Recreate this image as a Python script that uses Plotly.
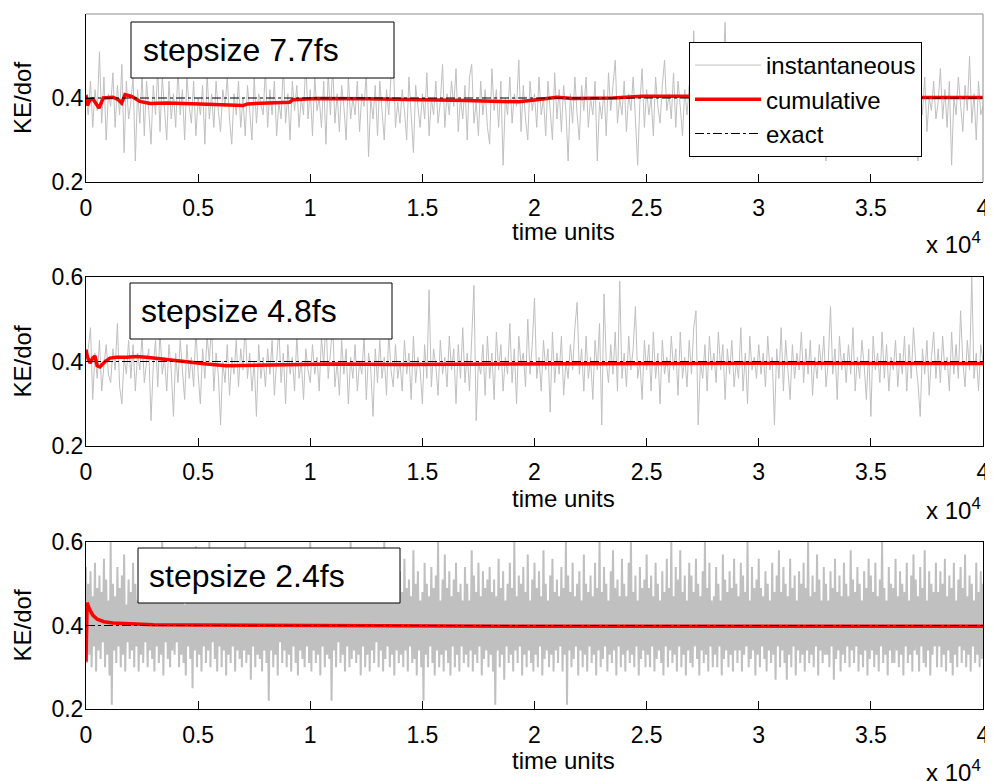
import numpy as np
import plotly.graph_objects as go

# ---------------- data ----------------
T_END = 40000          # time units
EXACT_KE = 0.4         # exact KE/dof

# instantaneous KE/dof, stored in hundredths (0.41 -> 41), evenly sampled over 0..40000
inst_7p7 = [
    40,36,44,33,42,37,51,34,45,30,41,38,46,33,43,36,48,27,44,35,
    39,45,25,42,34,46,31,44,37,29,43,36,47,32,45,38,30,44,35,41,
    33,47,36,42,30,45,38,34,44,31,40,36,43,29,46,35,41,33,44,37,
    32,42,38,45,35,29,41,36,44,33,40,31,43,37,30,45,34,41,38,36,
    47,33,42,36,44,31,39,35,48,34,41,30,44,37,43,33,40,36,49,35,
    42,31,45,37,40,33,44,29,46,36,48,34,41,32,43,38,30,45,35,40,
    36,44,32,41,38,46,26,40,35,43,31,44,37,30,42,36,45,50,33,39,
    34,42,37,30,45,36,27,43,38,33,41,35,46,31,40,36,44,34,39,48,
    33,41,36,44,38,47,32,40,35,43,30,45,48,34,39,31,44,36,42,33,
    29,47,37,42,33,44,24,40,36,45,34,41,38,49,32,43,35,30,44,37,
    41,33,45,36,40,31,44,38,30,46,35,42,32,43,37,25,41,34,45,36,
    30,43,37,45,33,40,36,44,25,39,35,42,31,46,37,43,49,34,40,36,
    44,32,41,37,45,35,24,39,47,33,42,36,40,31,45,38,34,43,49,37,
    41,35,46,33,44,38,31,42,36,43,34,56,37,40,32,45,36,42,39,34,
    43,36,40,33,45,58,38,31,44,35,42,29,40,36,46,33,41,37,44,32,
    39,45,34,42,30,44,37,41,33,46,36,40,28,43,35,45,38,32,42,36,
    44,33,40,37,45,31,39,35,43,30,25,41,36,44,34,42,38,31,45,36,
    26,41,35,43,37,30,45,34,40,36,44,32,42,38,46,33,40,36,43,35,
    41,34,44,37,31,45,36,40,33,43,38,25,42,36,45,32,40,37,44,35,
    39,47,35,42,33,44,24,40,36,45,38,32,43,37,50,34,41,30,44,36,
    38,
]
inst_4p8 = [
    40,43,48,31,42,36,45,33,39,44,37,35,43,38,49,34,30,41,37,45,
    36,44,33,42,38,46,35,40,43,26,39,45,34,47,37,41,33,44,38,27,
    42,35,45,38,31,44,36,41,34,48,37,30,43,36,46,40,49,33,42,37,
    25,40,35,44,32,41,37,45,34,43,38,49,36,42,33,40,27,44,36,41,
    34,43,37,45,32,40,48,35,42,30,44,37,41,33,46,36,40,31,43,38,
    35,44,37,41,33,46,39,50,36,42,49,34,40,32,45,37,43,30,41,36,
    44,33,40,37,46,31,42,38,27,43,35,45,36,41,32,47,38,34,44,36,
    40,33,45,37,42,31,46,35,41,38,30,44,36,57,34,43,39,32,45,37,
    41,34,46,38,43,30,44,36,48,35,42,33,45,58,26,40,37,44,32,46,
    36,42,31,47,38,44,33,41,37,49,35,43,30,46,39,42,34,50,37,44,
    55,36,41,33,45,38,43,28,47,35,42,37,46,32,40,36,44,38,48,54,
    37,43,33,46,36,41,31,45,38,49,25,56,40,35,44,37,47,33,59,36,
    42,34,46,38,43,53,36,40,31,45,38,44,33,47,36,42,30,45,37,41,
    35,46,38,43,32,47,36,41,34,45,37,48,52,25,40,36,44,33,46,38,
    42,35,47,38,44,31,43,37,45,34,40,36,48,33,42,30,46,38,41,36,
    44,37,42,34,46,38,41,25,43,36,48,33,45,39,31,44,36,42,38,47,
    35,43,37,45,32,41,36,44,38,46,34,40,53,37,43,31,46,38,42,35,
    44,37,48,33,41,36,45,39,31,43,27,46,38,42,35,47,36,44,33,41,
    38,45,34,42,37,46,33,44,36,48,40,35,27,43,37,45,32,41,47,36,
    43,35,46,38,41,33,47,37,44,36,52,40,34,45,38,60,36,42,33,44,
    40,
]
inst_2p4 = [
    54,31,50,33,53,30,47,35,55,29,49,34,52,32,48,36,56,30,51,33,
    46,28,60,21,50,34,47,31,54,35,49,30,52,33,57,29,45,36,51,32,
    48,34,55,30,50,35,46,29,53,33,58,31,49,36,47,30,52,34,56,32,
    50,29,47,35,54,31,49,33,60,28,51,36,46,32,53,30,48,34,55,33,
    47,36,52,30,49,33,56,31,45,28,51,35,48,32,55,25,50,34,59,30,
    53,33,46,29,50,35,57,31,48,34,60,30,52,36,47,32,54,29,49,35,
    51,30,55,34,48,28,53,33,46,31,58,35,50,29,47,34,52,32,56,30,
    49,34,60,31,47,33,53,27,50,35,46,30,55,33,48,32,57,29,51,34,
    46,31,52,22,49,34,55,30,47,33,53,28,50,36,58,31,48,34,51,30,
    54,33,47,29,52,35,49,31,56,28,50,34,46,32,53,30,48,35,55,31,
    60,29,51,34,47,31,54,33,49,28,57,35,48,30,52,33,46,32,55,22,
    49,34,53,30,47,36,58,31,50,33,46,29,54,35,49,30,60,32,51,34,
    47,31,55,33,50,28,48,35,53,30,46,33,57,29,49,34,52,31,48,36,
    55,30,50,34,47,29,60,32,51,35,48,30,54,33,46,28,52,34,49,31,
    53,33,48,30,56,34,49,29,51,35,47,31,58,32,50,28,53,34,46,30,
    48,22,55,33,50,30,47,35,54,31,49,28,52,34,60,30,46,33,51,29,
    57,34,49,31,53,28,47,35,51,30,55,33,48,29,50,35,46,31,54,33,
    50,30,46,34,58,29,52,33,48,31,55,35,47,28,53,32,49,34,51,30,
    54,33,48,29,51,21,47,34,56,30,49,33,53,27,46,35,50,31,55,33,
    49,29,60,34,47,31,52,35,50,28,54,33,48,30,57,34,46,31,51,29,
    55,33,49,30,53,35,47,28,58,32,50,34,46,30,52,33,56,29,48,34,
    51,31,47,35,54,29,49,33,60,21,52,34,48,30,55,32,47,35,50,28,
    53,34,46,30,57,33,50,29,48,35,52,31,47,33,55,28,49,34,60,30,
    48,32,54,35,50,29,46,33,53,31,58,34,49,28,51,35,47,30,56,33,
    50,29,47,34,55,31,60,33,48,30,52,35,46,28,54,32,49,34,51,30,
    57,33,49,30,52,35,47,29,55,32,50,34,46,31,53,28,48,35,56,30,
    49,34,60,31,47,33,54,29,51,35,58,30,48,33,52,28,46,34,55,31,
    52,30,48,35,56,32,50,28,47,34,53,31,60,33,49,29,55,35,46,30,
    47,33,54,30,50,35,46,28,57,32,51,34,48,30,53,33,49,29,56,34,
    50,31,47,34,55,29,52,33,48,35,60,30,46,32,54,34,49,28,51,33,
    56,30,49,35,47,32,53,29,50,34,46,31,55,33,48,27,52,35,58,30,
    48,34,54,31,50,27,47,33,56,30,49,35,52,28,46,34,53,31,50,33,
    55,29,49,34,60,31,47,33,52,30,48,35,57,28,51,34,46,31,54,33,
    50,33,46,30,53,35,49,27,56,32,48,34,52,29,47,33,55,31,50,35,
    47,30,58,34,51,31,48,35,54,29,50,33,46,30,53,34,49,28,56,32,
    52,34,48,30,55,33,47,29,51,35,60,31,49,33,46,28,54,34,50,31,
    49,31,56,34,47,30,53,33,50,28,48,35,55,31,46,33,52,29,57,34,
    51,33,47,29,54,35,49,31,58,30,46,34,53,28,50,33,48,35,55,30,
    48,35,53,30,50,33,56,29,47,34,52,31,49,28,55,33,46,30,51,35,
    54,31,49,34,57,30,47,33,52,29,50,35,46,31,55,33,48,30,53,32,
    50,
]

# cumulative (running) average of KE/dof
cum_7p7_t = [0, 60, 180, 300, 580, 770, 1200, 1440, 1590, 1740, 2030, 2400, 2850,
             3600, 5070, 6560, 7000, 7200, 8780, 9080, 9230, 10270, 12500, 15460,
             16940, 18130, 19300, 20100, 21000, 21700, 23500, 24800, 26600, 37400, 40000]
cum_7p7_v = [0.408, 0.382, 0.396, 0.398, 0.376, 0.400, 0.402, 0.396, 0.388, 0.408,
             0.404, 0.392, 0.387, 0.388, 0.386, 0.384, 0.382, 0.386, 0.388, 0.390,
             0.396, 0.399, 0.398, 0.396, 0.394, 0.392, 0.391, 0.396, 0.402, 0.399,
             0.400, 0.404, 0.404, 0.401, 0.401]
cum_4p8_t = [0, 60, 180, 300, 400, 500, 620, 850, 1070, 1360, 1810, 2255, 2700,
             3590, 4480, 5370, 6260, 7150, 8780, 11000, 13980, 18430, 20000, 30000, 40000]
cum_4p8_v = [0.428, 0.412, 0.396, 0.408, 0.413, 0.390, 0.387, 0.400, 0.408, 0.410,
             0.410, 0.412, 0.410, 0.404, 0.399, 0.394, 0.390, 0.391, 0.393, 0.394,
             0.393, 0.394, 0.394, 0.396, 0.395]
cum_2p4_t = [0, 50, 150, 300, 500, 800, 1200, 2000, 3000, 5000, 8000, 12000, 20000, 30000, 40000]
cum_2p4_v = [0.314, 0.455, 0.440, 0.425, 0.415, 0.409, 0.406, 0.404, 0.402, 0.401,
             0.400, 0.399, 0.398, 0.398, 0.398]

labels = ["stepsize 7.7fs", "stepsize 4.8fs", "stepsize 2.4fs"]
x_tick_vals = [0, 5000, 10000, 15000, 20000, 25000, 30000, 35000, 40000]
x_tick_text = ["0", "0.5", "1", "1.5", "2", "2.5", "3", "3.5", "4"]

# ---------------- layout helpers ----------------
# the page places the figure 8px in from the top-left corner of the 993x781 window
OFF = 8
W, H = 993 - OFF, 781 - OFF
FONT = "Liberation Sans, Arial, Helvetica, sans-serif"
def px(x):
    return (x - OFF) / W
def py(y):
    return 1 - (y - OFF) / H

panels = [
    dict(inst=inst_7p7, ct=cum_7p7_t, cv=cum_7p7_v, top=14, bot=182, gw=1,
         box=(131, 22, 394, 78), tx=141, yticks=[0.2, 0.4], tu=232, x10=243),
    dict(inst=inst_4p8, ct=cum_4p8_t, cv=cum_4p8_v, top=277, bot=446, gw=1,
         box=(130, 283, 392, 339), tx=139, yticks=[0.2, 0.4, 0.6], tu=498, x10=509),
    dict(inst=inst_2p4, ct=cum_2p4_t, cv=cum_2p4_v, top=542, bot=709, gw=2,
         box=(138, 548, 400, 603), tx=147, yticks=[0.2, 0.4, 0.6], tu=760, x10=771),
]
X0, X1 = 86, 983

fig = go.Figure()
shapes, annos = [], []
for i, p in enumerate(panels):
    n = i + 1
    xa = "x" if n == 1 else f"x{n}"
    ya = "y" if n == 1 else f"y{n}"
    inst = np.array(p["inst"]) / 100.0
    t = np.linspace(0, T_END, len(inst))
    show = (n == 1)
    fig.add_trace(go.Scatter(x=t, y=inst, mode="lines", name="instantaneous",
                             line=dict(color="#c0c0c0", width=p["gw"]),
                             xaxis=xa, yaxis=ya, showlegend=show, legendgroup="a"))
    fig.add_trace(go.Scatter(x=p["ct"], y=p["cv"], mode="lines", name="cumulative",
                             line=dict(color="#ff0000", width=3.5),
                             xaxis=xa, yaxis=ya, showlegend=show, legendgroup="b"))
    fig.add_trace(go.Scatter(x=[0, T_END], y=[EXACT_KE, EXACT_KE], mode="lines", name="exact",
                             line=dict(color="black", width=1, dash="dashdot"),
                             xaxis=xa, yaxis=ya, showlegend=show, legendgroup="c"))

    key_x = "xaxis" if n == 1 else f"xaxis{n}"
    key_y = "yaxis" if n == 1 else f"yaxis{n}"
    edge = "#8c8c8c" if n == 1 else "black"
    fig.layout[key_x] = dict(domain=[px(X0), px(X1)], anchor=ya, range=[0, T_END],
                             tickvals=x_tick_vals, ticktext=x_tick_text, automargin=False,
                             ticks="inside", ticklen=8, tickcolor="black",
                             showline=True, linecolor="black", linewidth=1, mirror=(n != 1),
                             showgrid=False, zeroline=False, ticklabelstandoff=5,
                             tickfont=dict(family=FONT, size=23, color="black"))
    fig.layout[key_y] = dict(domain=[py(p["bot"]), py(p["top"])], anchor=xa, range=[0.2, 0.6],
                             tickvals=p["yticks"], ticktext=[f"{v:.1f}" for v in p["yticks"]],
                             automargin=False,
                             ticks="inside", ticklen=8, tickcolor="black",
                             showline=True, linecolor="black", linewidth=1, mirror=(n != 1),
                             showgrid=False, zeroline=False, ticklabelstandoff=-3,
                             tickfont=dict(family=FONT, size=23, color="black"))
    if n == 1:
        # lighter top and right frame edges of the first panel
        shapes.append(dict(type="line", xref="paper", yref="paper", x0=px(X0), x1=px(X1),
                           y0=py(p["top"]), y1=py(p["top"]), line=dict(color=edge, width=1)))
        shapes.append(dict(type="line", xref="paper", yref="paper", x0=px(X1), x1=px(X1),
                           y0=py(p["bot"]), y1=py(p["top"]), line=dict(color=edge, width=1)))

    bx0, by0, bx1, by1 = p["box"]
    shapes.append(dict(type="rect", xref="paper", yref="paper",
                       x0=px(bx0), x1=px(bx1), y0=py(by1), y1=py(by0),
                       line=dict(color="black", width=1), fillcolor="white", layer="above"))
    annos.append(dict(text=labels[i], xref="paper", yref="paper", x=px(p["tx"]),
                      y=py((by0 + by1) / 2), xanchor="left", yanchor="middle", showarrow=False,
                      font=dict(family=FONT, size=32, color="black")))
    annos.append(dict(text="KE/dof", xref="paper", yref="paper", x=px(22),
                      y=py((p["top"] + p["bot"]) / 2), textangle=-90, xanchor="center",
                      yanchor="middle", showarrow=False,
                      font=dict(family=FONT, size=24, color="black")))
    annos.append(dict(text="time units", xref="paper", yref="paper", x=px(563), y=py(p["tu"]),
                      xanchor="center", yanchor="middle", showarrow=False,
                      font=dict(family=FONT, size=24, color="black")))
    annos.append(dict(text="x 10<sup>4</sup>", xref="paper", yref="paper", x=px(983),
                      y=py(p["x10"]), xanchor="right", yanchor="middle", showarrow=False,
                      font=dict(family=FONT, size=24, color="black")))

fig.update_layout(
    width=W, height=H, margin=dict(l=0, r=0, t=0, b=0, autoexpand=False),
    paper_bgcolor="white", plot_bgcolor="white",
    shapes=shapes, annotations=annos,
    legend=dict(x=px(922), xanchor="right", y=py(42), yanchor="top",
                bgcolor="white", bordercolor="black", borderwidth=1,
                font=dict(family=FONT, size=24, color="black"),
                tracegroupgap=0, itemwidth=66),
)

fig.write_html("out.html")
